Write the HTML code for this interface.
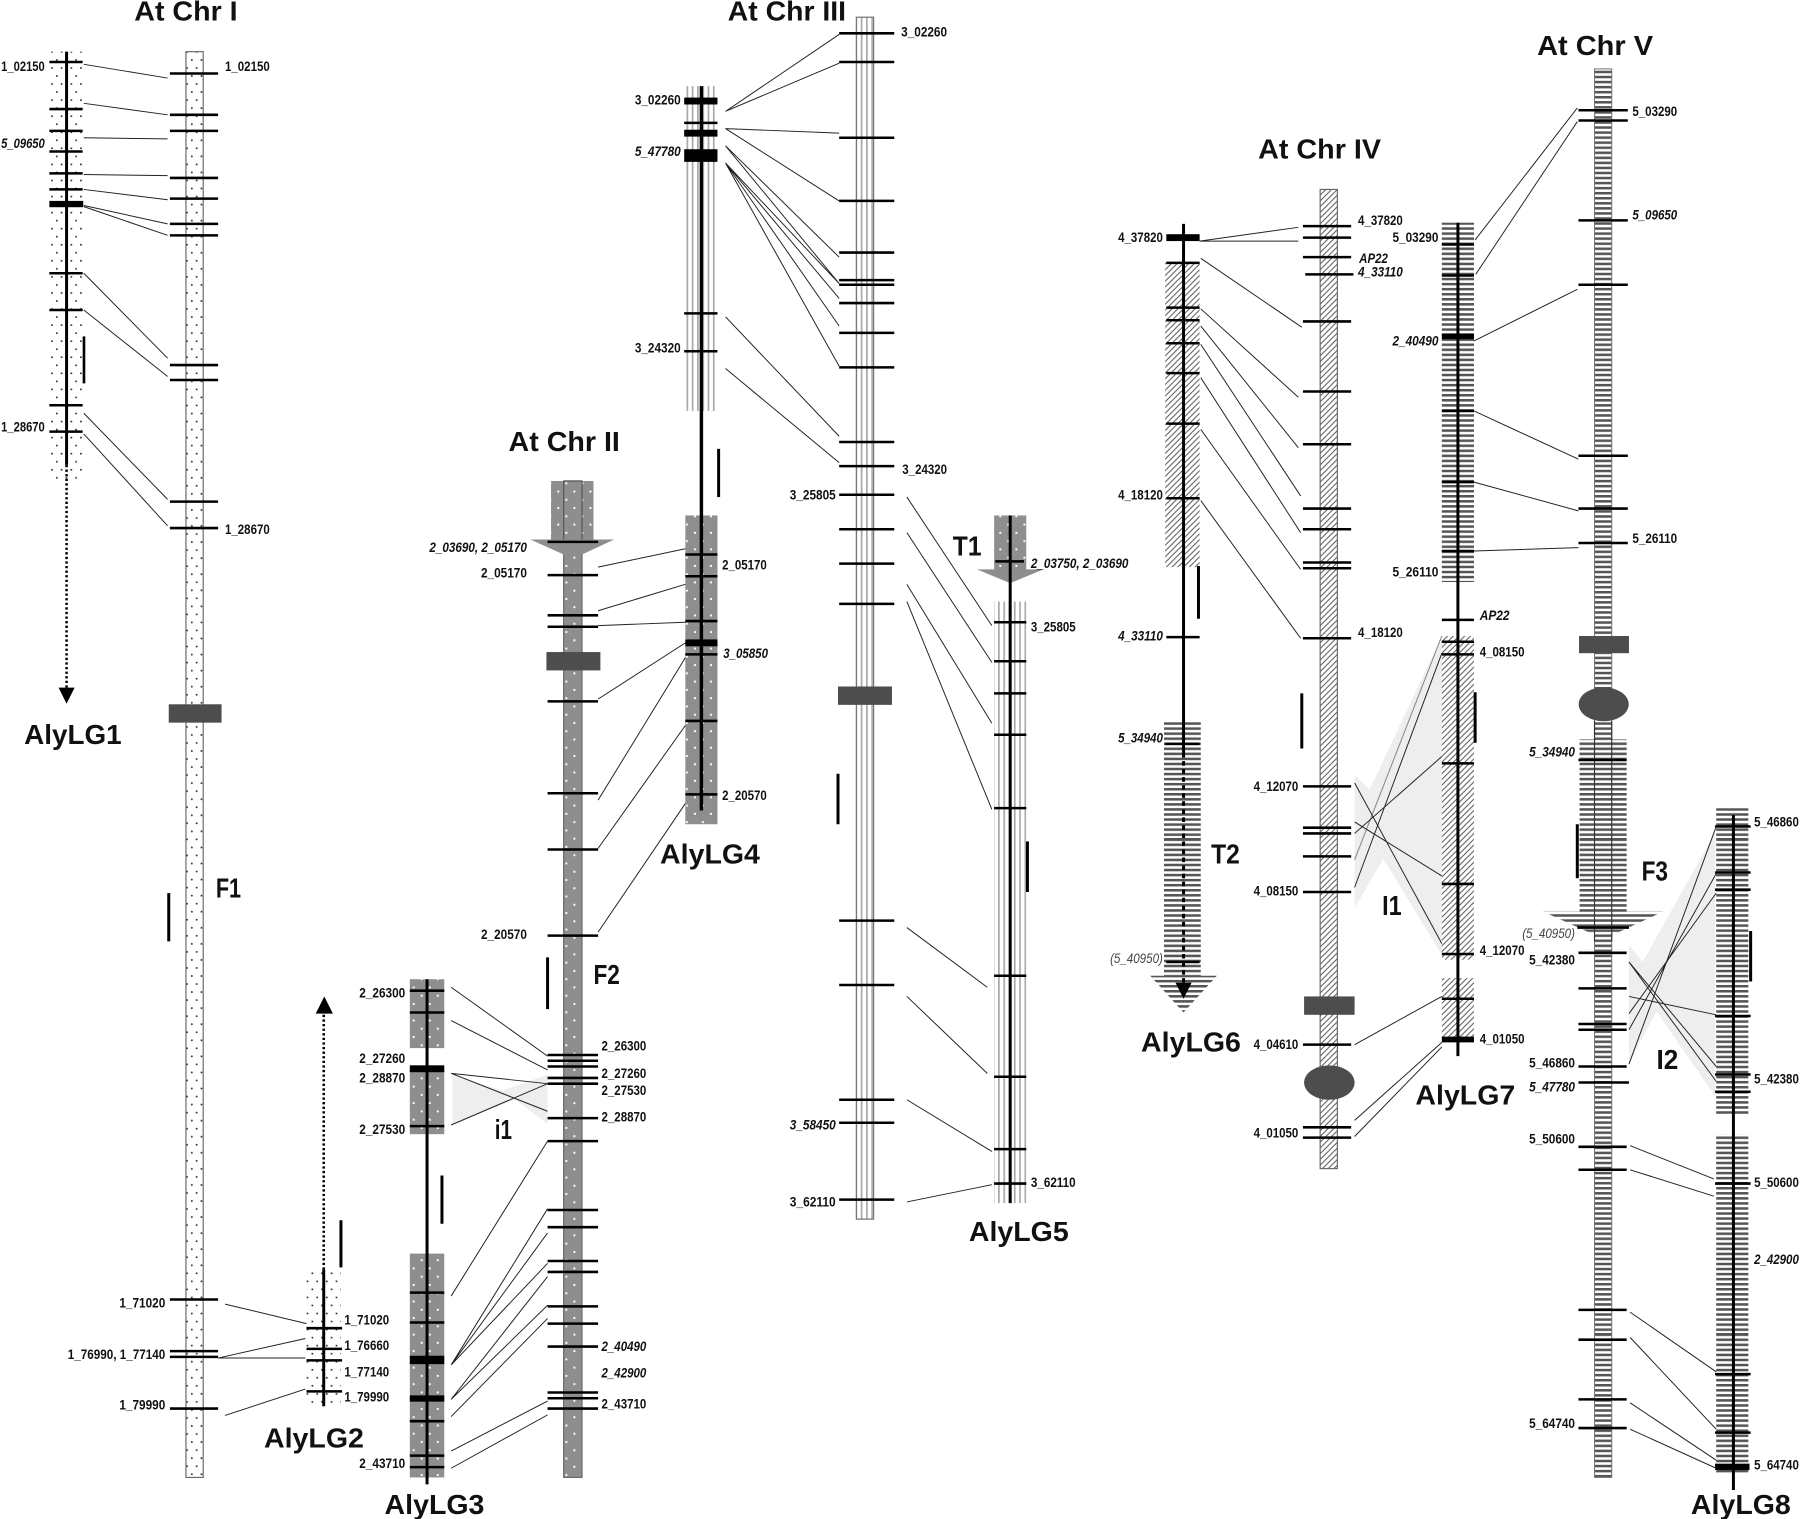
<!DOCTYPE html>
<html><head><meta charset="utf-8"><title>Chromosome synteny diagram</title>
<style>
html,body{margin:0;padding:0;background:#fff}
svg{display:block}
text{font-family:"Liberation Sans",sans-serif;font-weight:bold;fill:#111}
.l{font-size:11.8px}
.i{font-size:11.8px;font-style:italic}
.g{font-size:11.8px;font-style:italic;font-weight:normal;fill:#444}
.h{font-size:24px}
.t{fill:none;stroke:#000;stroke-width:2.2}
.c{fill:none;stroke:#222;stroke-width:.85}
.b{fill:none;stroke:#000;stroke-width:2.6}
.a{fill:none;stroke:#000;stroke-width:2.6}
.o{stroke:#666;stroke-width:1}
</style></head><body>
<svg xmlns="http://www.w3.org/2000/svg" width="1800" height="1519" viewBox="0 0 1568 1323.2">
<defs>
<pattern id="d" width="8.400" height="14" patternUnits="userSpaceOnUse"><rect width="8.400" height="14" fill="#fff"/><rect x="2.600" y="2.500" width="1.400" height="1.400" fill="#222"/><rect x="6.800" y="9.500" width="1.400" height="1.400" fill="#222"/></pattern>
<pattern id="dg" width="14" height="14.4" patternUnits="userSpaceOnUse"><rect width="14" height="14.4" fill="#8e8e8e"/><rect x="2.500" y="2.500" width="1.700" height="1.700" fill="#fff"/><rect x="9.500" y="9.700" width="1.700" height="1.700" fill="#fff"/></pattern>
<pattern id="v" width="4.600" height="10" patternUnits="userSpaceOnUse"><rect width="4.600" height="10" fill="#fff"/><rect x="0" y="0" width="1.500" height="10" fill="#aaa"/></pattern>
<pattern id="x" width="5" height="5" patternUnits="userSpaceOnUse"><rect width="5" height="5" fill="#fff"/><path d="M-1 6L6 -1M-1 1L1 -1M4 6L6 4" stroke="#555" stroke-width=".85"/></pattern>
<pattern id="hl" width="10" height="4.400" patternUnits="userSpaceOnUse"><rect width="10" height="4.400" fill="#fff"/><rect y="0" width="10" height="2.200" fill="#555"/></pattern>
</defs>
<rect width="1568" height="1323.2" fill="#fff"/>

<!-- shaded inversions -->
<polygon points="394,936 438,950 477,936 477,979 449,958 394,979" fill="#eee"/>
<polygon points="1180,675 1193,688 1256,554 1256,832 1205,748 1180,791" fill="#eee"/>
<polygon points="1419,823 1431,838 1494,725 1494,955 1443,881 1419,926" fill="#eee"/>

<!-- Chr I -->
<rect class="o" x="162" y="45" width="15" height="1242" fill="url(#d)"/>
<rect x="147" y="613.500" width="46" height="16" fill="#4d4d4d"/>
<path class="t" d="M148 64H190M148 100H190M148 114H190M148 155H190M148 173H190M148 195H190M148 205H190M148 318H190M148 331H190M148 437H190M148 460H190M148 1132H190M148 1177H190M148 1182H190M148 1227H190"/>
<path class="b" d="M147 778V820M73 293V334M297 1063V1104"/>

<!-- AlyLG1 -->
<rect x="44" y="45" width="28" height="373" fill="url(#d)"/>
<path class="a" d="M58 45V405"/>
<path d="M58 405V600" fill="none" stroke="#000" stroke-width="2.200" stroke-dasharray="2 2"/>
<polygon points="51,599 65,599 58,613" fill="#000"/>
<path class="t" d="M43 54H72M43 95H72M43 114H72M43 132H72M43 151H72M43 165H72M43 238H72M43 270H72M43 353H72M43 376H72"/>
<rect x="43" y="175" width="29.500" height="5.500" fill="#000"/>
<path class="c" d="M73 56L146 68M73 90L146 100M73 120L146 121M73 152L146 153M73 165L146 174M73 179L146 195M73 180L146 205M73 238L146 312M73 270L146 328M73 360L146 435M73 378L146 458"/>

<!-- AlyLG2 -->
<rect x="266" y="1108" width="31" height="117" fill="url(#d)"/>
<path class="a" d="M282 1106V1225"/>
<path d="M282 880V1106" fill="none" stroke="#000" stroke-width="2.200" stroke-dasharray="2 2"/>
<polygon points="275,883 290,883 282.500,868" fill="#000"/>
<path class="t" d="M267 1157H298M267 1175H298M267 1185H298M267 1212H298"/>
<path class="c" d="M196 1136L267 1153M190 1183L266 1166M190 1183L266 1183M196 1233L266 1210"/>

<!-- Chr II -->
<rect class="o" x="491" y="419" width="16" height="868" fill="url(#dg)"/>
<rect x="480" y="419" width="37" height="52" fill="url(#dg)"/>
<polygon points="462,470 535,470 507,483 491,483" fill="#8e8e8e"/>
<path d="M491 419H507M491 419V470M507 419V470" stroke="#555" fill="none"/>
<rect x="476" y="568" width="47" height="16" fill="#4d4d4d"/>
<path class="t" d="M477 472H521M477 501H521M477 536H521M477 546H521M477 611H521M477 691H521M477 740H521M477 815H521M477 919H521M477 924H521M477 929H521M477 939H521M477 944H521M477 974H521M477 994H521M477 1054H521M477 1069H521M477 1098.500H521M477 1108H521M477 1138H521M477 1153H521M477 1173H521M477 1213H521M477 1218H521M477 1227H521"/>
<path class="b" d="M477 834V879M385 1024V1066"/>

<!-- AlyLG3 -->
<rect x="357" y="853" width="30" height="60" fill="url(#dg)"/>
<rect x="357" y="932" width="30" height="56" fill="url(#dg)"/>
<rect x="357" y="1092" width="30" height="195" fill="url(#dg)"/>
<path class="a" d="M372 853V1293"/>
<path class="t" d="M357 863H387M357 882H387M357 981H387M357 1126H387M357 1152H387M357 1238H387M357 1268H387M357 1278H387"/>
<rect x="357" y="928" width="30" height="6" fill="#000"/>
<rect x="357" y="1181" width="30" height="7.300" fill="#000"/>
<rect x="357" y="1215.500" width="30" height="5.500" fill="#000"/>
<path class="c" d="M393 860L477 920M393 889L477 932M393 935L477 944M393 935L477 968M393 980L477 944M393 1129L477 994M393 1189L477 1053M393 1189L477 1074M393 1189L477 1100.500M393 1219L477 1112M393 1219L477 1137M393 1234L477 1148.500M393 1264L477 1220.500M393 1279L477 1232.500"/>

<!-- AlyLG4 -->
<rect x="597" y="75" width="28" height="283" fill="url(#v)"/>
<rect x="597" y="449" width="28" height="269" fill="url(#dg)"/>
<path d="M611 75V706" fill="none" stroke="#000" stroke-width="3"/>
<rect x="596" y="85" width="29" height="6" fill="#000"/>
<rect x="596" y="113" width="29" height="6" fill="#000"/>
<rect x="596" y="130" width="29" height="11" fill="#000"/>
<rect x="597" y="557" width="28" height="6" fill="#000"/>
<path class="t" d="M596 107H625M596 273H625M596 306H625M597 483H625M597 502H625M597 541H625M597 570H625M597 628H625M597 692H625"/>
<path class="b" d="M626 391V433"/>
<path class="c" d="M521 494L597 478M521 532L597 509M521 545L597 542M521 609L597 560M521 697L597 573M521 739L597 632M521 812L597 700"/>

<!-- Chr III -->
<rect x="746" y="15" width="15" height="1047" fill="url(#v)"/>
<rect x="746" y="15" width="15" height="1047" fill="none" stroke="#777" stroke-width="1.100"/>
<rect x="730" y="598" width="47" height="16" fill="#4d4d4d"/>
<path class="t" d="M731 29H779M731 54H779M731 120H779M731 175H779M731 220H779M731 244H779M731 248H779M731 264H779M731 290H779M731 320H779M731 385H779M731 406H779M731 431H779M731 461H779M731 491H779M731 526H779M731 802H779M731 858H779M731 958H779M731 978H779M731 1045H779"/>
<path class="b" d="M730 674V718"/>
<path class="c" d="M632 97L731 30M632 97L731 55M632 112L731 116M632 112L731 175M632 127L731 224M632 127L731 247M632 142L731 247M632 142L731 260M632 142L731 284M632 142L731 319M632 276L731 380M632 321L731 403"/>

<!-- AlyLG5 -->
<rect x="866" y="449" width="28" height="48" fill="url(#dg)"/>
<polygon points="851,496 909,496 880,508" fill="#8e8e8e"/>
<rect x="866" y="524" width="28" height="524" fill="url(#v)"/>
<path class="a" d="M880 449V1048"/>
<path class="t" d="M867 489H892M866 542H894M866 576H894M866 604H894M866 640H894M866 704H894M866 850H894M866 938H894M866 1001H894M866 1031H894"/>
<path class="b" d="M895 733V777"/>
<path class="c" d="M790 433L864 545M790 464L864 577M790 509L864 630M790 524L864 705M790 808L860 860M790 868L860 935M790 958L864 1003M790 1047L864 1032"/>

<!-- AlyLG6 -->
<rect x="1015" y="228" width="30" height="266" fill="url(#x)"/>
<rect x="1014" y="628" width="32" height="222" fill="url(#hl)"/>
<polygon points="1002,850 1060,850 1031,882" fill="url(#hl)"/>
<path class="a" d="M1031 195V656"/>
<path d="M1031 656V858" fill="none" stroke="#000" stroke-width="2.600" stroke-dasharray="4 3"/>
<polygon points="1024,856 1038,856 1031,870" fill="#000"/>
<rect x="1016" y="204" width="29" height="6" fill="#000"/>
<path class="t" d="M1016 229H1045M1016 268H1045M1016 279H1045M1016 299H1045M1016 325H1045M1016 369H1045M1016 434H1045M1016 555H1045M1015 648H1045M1016 838H1045"/>
<path class="b" d="M1044 493V539"/>
<path class="c" d="M1045 210L1131 198M1045 210L1131 210M1046 225L1134 285M1046 269L1131 346M1046 284L1131 390M1046 300L1133 432M1046 329L1133 464M1046 374L1133 496M1046 436L1133 556"/>

<!-- Chr IV -->
<rect class="o" x="1150" y="165" width="15" height="853" fill="url(#x)"/>
<rect x="1136" y="868" width="44" height="16" fill="#4d4d4d"/>
<ellipse cx="1158" cy="943" rx="22" ry="15" fill="#4d4d4d"/>
<path class="t" d="M1135 197H1177M1135 207H1177M1135 224H1177M1137 239H1179M1135 280H1177M1135 341H1177M1135 387H1177M1135 443H1177M1135 461H1177M1135 490H1177M1135 495H1177M1135 556H1177M1135 685H1177M1135 721H1177M1135 726H1177M1135 746H1177M1135 777H1177M1135 910H1177M1135 982H1177M1135 991H1177"/>
<path class="b" d="M1134 604V652"/>

<!-- AlyLG7 -->
<rect x="1256" y="194" width="28" height="313" fill="url(#hl)"/>
<rect x="1256" y="554" width="28" height="282" fill="url(#x)"/>
<rect x="1256" y="852" width="28" height="56" fill="url(#x)"/>
<path class="a" d="M1270 194V920"/>
<path class="t" d="M1256 213H1284M1256 240H1284M1256 358H1284M1256 420H1284M1256 480H1284M1256 540H1284M1256 559H1284M1256 570H1284M1256 665H1284M1256 770H1284M1256 831H1284M1256 870H1284"/>
<rect x="1256" y="290.500" width="28" height="5" fill="#000"/>
<rect x="1256" y="903" width="28" height="5" fill="#000"/>
<path class="b" d="M1285 603V647"/>
<path fill="none" stroke="#888" stroke-width=".9" d="M1180 749L1256 554"/>
<path class="c" d="M1180 773L1256 569M1180 726L1256 659M1180 716L1256 763M1180 682L1256 822M1180 910L1256 868M1180 976L1256 908M1180 990L1256 912"/>
<path class="c" d="M1285 209L1374 94M1285.500 239L1374 106M1284 297L1374 252M1284 358L1375 400M1284 420L1375 445M1284 480L1375 477"/>

<!-- Chr V -->
<rect x="1389" y="60" width="15" height="1227" fill="url(#hl)"/>
<rect x="1389" y="60" width="15" height="1227" fill="none" stroke="#777" stroke-width=".9"/>
<rect x="1375.500" y="554" width="43.500" height="15" fill="#4d4d4d"/>
<ellipse cx="1397" cy="613.500" rx="21.800" ry="14.800" fill="#4d4d4d"/>
<rect x="1376" y="644" width="41" height="151" fill="url(#hl)"/>
<polygon points="1344,794 1449,794 1397,818" fill="url(#hl)"/>
<path d="M1389 628V820M1404 628V820" stroke="#333" fill="none"/>
<path class="t" d="M1375 96H1418M1375 105H1418M1375 192H1418M1375 248H1418M1375 397H1418M1375 443H1418M1375 473H1418M1375 662H1417M1374 808H1419M1375 830H1417M1375 861H1417M1375 892H1417M1375 897H1417M1375 929H1417M1375 943H1419M1375 999H1417M1375 1019H1417M1375 1141H1417M1375 1167H1417M1375 1219H1417M1375 1244H1417"/>
<path class="b" d="M1374 718V765"/>

<!-- AlyLG8 -->
<rect x="1495" y="704" width="28" height="267" fill="url(#hl)"/>
<rect x="1495" y="988" width="28" height="295" fill="url(#hl)"/>
<path class="a" d="M1510 710V1298"/>
<path class="t" d="M1494 720H1525M1494 760H1525M1494 775H1525M1494 885H1525M1494 936H1525M1494 951H1525M1494 1031H1525M1494 1197H1525M1494 1248H1525"/>
<rect x="1494" y="1275" width="30" height="5.500" fill="#000"/>
<path class="b" d="M1525 811V855"/>
<path class="c" d="M1419 927L1495 720M1419 897L1495 761M1419 883L1495 778M1419 868L1495 884M1419 838L1495 929M1419 838L1495 942M1420 998L1493 1027M1420 1019L1493 1042M1420 1143L1495 1195M1420 1165L1495 1245M1420 1222L1495 1272M1420 1245L1495 1279"/>

<!-- Titles -->
<text class="h" x="117" y="18" textLength="90" lengthAdjust="spacingAndGlyphs">At Chr I</text>
<text class="h" x="443" y="393" textLength="97" lengthAdjust="spacingAndGlyphs">At Chr II</text>
<text class="h" x="634" y="18" textLength="103" lengthAdjust="spacingAndGlyphs">At Chr III</text>
<text class="h" x="1096" y="138" textLength="107" lengthAdjust="spacingAndGlyphs">At Chr IV</text>
<text class="h" x="1339" y="48" textLength="101" lengthAdjust="spacingAndGlyphs">At Chr V</text>
<text class="h" x="21" y="648" textLength="85" lengthAdjust="spacingAndGlyphs">AlyLG1</text>
<text class="h" x="230" y="1261" textLength="87" lengthAdjust="spacingAndGlyphs">AlyLG2</text>
<text class="h" x="335" y="1319" textLength="87" lengthAdjust="spacingAndGlyphs">AlyLG3</text>
<text class="h" x="575" y="752" textLength="87" lengthAdjust="spacingAndGlyphs">AlyLG4</text>
<text class="h" x="844" y="1081" textLength="87" lengthAdjust="spacingAndGlyphs">AlyLG5</text>
<text class="h" x="994" y="916" textLength="87" lengthAdjust="spacingAndGlyphs">AlyLG6</text>
<text class="h" x="1233" y="962" textLength="87" lengthAdjust="spacingAndGlyphs">AlyLG7</text>
<text class="h" x="1473" y="1319" textLength="87" lengthAdjust="spacingAndGlyphs">AlyLG8</text>
<text class="h" x="188" y="782" textLength="22" lengthAdjust="spacingAndGlyphs">F1</text>
<text class="h" x="517" y="857" textLength="23" lengthAdjust="spacingAndGlyphs">F2</text>
<text class="h" x="1430" y="767" textLength="23" lengthAdjust="spacingAndGlyphs">F3</text>
<text class="h" x="830" y="484" textLength="25" lengthAdjust="spacingAndGlyphs">T1</text>
<text class="h" x="1055" y="752" textLength="25" lengthAdjust="spacingAndGlyphs">T2</text>
<text class="h" x="1204" y="797" textLength="17" lengthAdjust="spacingAndGlyphs">I1</text>
<text class="h" x="1443" y="931" textLength="19" lengthAdjust="spacingAndGlyphs">I2</text>
<text class="h" x="431" y="992" textLength="15" lengthAdjust="spacingAndGlyphs">i1</text>

<!-- Labels: LG1 / Chr I / LG2 -->
<text class="l" x="1" y="62" textLength="38" lengthAdjust="spacingAndGlyphs">1_02150</text>
<text class="i" x="1" y="129" textLength="38" lengthAdjust="spacingAndGlyphs">5_09650</text>
<text class="l" x="1" y="376" textLength="38" lengthAdjust="spacingAndGlyphs">1_28670</text>
<text class="l" x="196" y="62" textLength="39" lengthAdjust="spacingAndGlyphs">1_02150</text>
<text class="l" x="196" y="465" textLength="39" lengthAdjust="spacingAndGlyphs">1_28670</text>
<text class="l" x="104" y="1139" textLength="40" lengthAdjust="spacingAndGlyphs">1_71020</text>
<text class="l" x="59" y="1184" textLength="85" lengthAdjust="spacingAndGlyphs">1_76990, 1_77140</text>
<text class="l" x="104" y="1228" textLength="40" lengthAdjust="spacingAndGlyphs">1_79990</text>
<text class="l" x="300" y="1154" textLength="39" lengthAdjust="spacingAndGlyphs">1_71020</text>
<text class="l" x="300" y="1176" textLength="39" lengthAdjust="spacingAndGlyphs">1_76660</text>
<text class="l" x="300" y="1199" textLength="39" lengthAdjust="spacingAndGlyphs">1_77140</text>
<text class="l" x="300" y="1221" textLength="39" lengthAdjust="spacingAndGlyphs">1_79990</text>

<!-- Labels: Chr II / LG3 / LG4 -->
<text class="i" x="374" y="481" textLength="85" lengthAdjust="spacingAndGlyphs">2_03690, 2_05170</text>
<text class="l" x="419" y="503" textLength="40" lengthAdjust="spacingAndGlyphs">2_05170</text>
<text class="l" x="419" y="818" textLength="40" lengthAdjust="spacingAndGlyphs">2_20570</text>
<text class="l" x="524" y="915" textLength="39" lengthAdjust="spacingAndGlyphs">2_26300</text>
<text class="l" x="524" y="939" textLength="39" lengthAdjust="spacingAndGlyphs">2_27260</text>
<text class="l" x="524" y="954" textLength="39" lengthAdjust="spacingAndGlyphs">2_27530</text>
<text class="l" x="524" y="977" textLength="39" lengthAdjust="spacingAndGlyphs">2_28870</text>
<text class="i" x="524" y="1177" textLength="39" lengthAdjust="spacingAndGlyphs">2_40490</text>
<text class="i" x="524" y="1200" textLength="39" lengthAdjust="spacingAndGlyphs">2_42900</text>
<text class="l" x="524" y="1227" textLength="39" lengthAdjust="spacingAndGlyphs">2_43710</text>
<text class="l" x="313" y="869" textLength="40" lengthAdjust="spacingAndGlyphs">2_26300</text>
<text class="l" x="313" y="926" textLength="40" lengthAdjust="spacingAndGlyphs">2_27260</text>
<text class="l" x="313" y="943" textLength="40" lengthAdjust="spacingAndGlyphs">2_28870</text>
<text class="l" x="313" y="988" textLength="40" lengthAdjust="spacingAndGlyphs">2_27530</text>
<text class="l" x="313" y="1279" textLength="40" lengthAdjust="spacingAndGlyphs">2_43710</text>
<text class="l" x="553" y="91" textLength="40" lengthAdjust="spacingAndGlyphs">3_02260</text>
<text class="i" x="553" y="136" textLength="40" lengthAdjust="spacingAndGlyphs">5_47780</text>
<text class="l" x="553" y="307" textLength="40" lengthAdjust="spacingAndGlyphs">3_24320</text>
<text class="l" x="629" y="496" textLength="39" lengthAdjust="spacingAndGlyphs">2_05170</text>
<text class="i" x="630" y="573" textLength="39" lengthAdjust="spacingAndGlyphs">3_05850</text>
<text class="l" x="629" y="697" textLength="39" lengthAdjust="spacingAndGlyphs">2_20570</text>

<!-- Labels: Chr III / LG5 -->
<text class="l" x="785" y="32" textLength="40" lengthAdjust="spacingAndGlyphs">3_02260</text>
<text class="l" x="786" y="413" textLength="39" lengthAdjust="spacingAndGlyphs">3_24320</text>
<text class="l" x="688" y="435" textLength="40" lengthAdjust="spacingAndGlyphs">3_25805</text>
<text class="i" x="688" y="984" textLength="40" lengthAdjust="spacingAndGlyphs">3_58450</text>
<text class="l" x="688" y="1051" textLength="40" lengthAdjust="spacingAndGlyphs">3_62110</text>
<text class="i" x="898" y="495" textLength="85" lengthAdjust="spacingAndGlyphs">2_03750, 2_03690</text>
<text class="l" x="898" y="550" textLength="39" lengthAdjust="spacingAndGlyphs">3_25805</text>
<text class="l" x="898" y="1034" textLength="39" lengthAdjust="spacingAndGlyphs">3_62110</text>

<!-- Labels: LG6 / Chr IV / LG7 -->
<text class="l" x="974" y="211" textLength="39" lengthAdjust="spacingAndGlyphs">4_37820</text>
<text class="l" x="974" y="435" textLength="39" lengthAdjust="spacingAndGlyphs">4_18120</text>
<text class="i" x="974" y="558" textLength="39" lengthAdjust="spacingAndGlyphs">4_33110</text>
<text class="i" x="974" y="647" textLength="39" lengthAdjust="spacingAndGlyphs">5_34940</text>
<text class="g" x="967" y="839" textLength="46" lengthAdjust="spacingAndGlyphs">(5_40950)</text>
<text class="l" x="1183" y="196" textLength="39" lengthAdjust="spacingAndGlyphs">4_37820</text>
<text class="i" x="1184" y="229" textLength="25" lengthAdjust="spacingAndGlyphs">AP22</text>
<text class="i" x="1183" y="241" textLength="39" lengthAdjust="spacingAndGlyphs">4_33110</text>
<text class="l" x="1183" y="555" textLength="39" lengthAdjust="spacingAndGlyphs">4_18120</text>
<text class="l" x="1092" y="689" textLength="39" lengthAdjust="spacingAndGlyphs">4_12070</text>
<text class="l" x="1092" y="780" textLength="39" lengthAdjust="spacingAndGlyphs">4_08150</text>
<text class="l" x="1092" y="914" textLength="39" lengthAdjust="spacingAndGlyphs">4_04610</text>
<text class="l" x="1092" y="991" textLength="39" lengthAdjust="spacingAndGlyphs">4_01050</text>
<text class="l" x="1213" y="211" textLength="40" lengthAdjust="spacingAndGlyphs">5_03290</text>
<text class="i" x="1213" y="301" textLength="40" lengthAdjust="spacingAndGlyphs">2_40490</text>
<text class="l" x="1213" y="502" textLength="40" lengthAdjust="spacingAndGlyphs">5_26110</text>
<text class="i" x="1289" y="540" textLength="26" lengthAdjust="spacingAndGlyphs">AP22</text>
<text class="l" x="1289" y="572" textLength="39" lengthAdjust="spacingAndGlyphs">4_08150</text>
<text class="l" x="1289" y="832" textLength="39" lengthAdjust="spacingAndGlyphs">4_12070</text>
<text class="l" x="1289" y="909" textLength="39" lengthAdjust="spacingAndGlyphs">4_01050</text>

<!-- Labels: Chr V / LG8 -->
<text class="l" x="1422" y="101" textLength="39" lengthAdjust="spacingAndGlyphs">5_03290</text>
<text class="i" x="1422" y="191" textLength="39" lengthAdjust="spacingAndGlyphs">5_09650</text>
<text class="l" x="1422" y="473" textLength="39" lengthAdjust="spacingAndGlyphs">5_26110</text>
<text class="i" x="1332" y="659" textLength="40" lengthAdjust="spacingAndGlyphs">5_34940</text>
<text class="g" x="1326" y="817" textLength="46" lengthAdjust="spacingAndGlyphs">(5_40950)</text>
<text class="l" x="1332" y="840" textLength="40" lengthAdjust="spacingAndGlyphs">5_42380</text>
<text class="l" x="1332" y="930" textLength="40" lengthAdjust="spacingAndGlyphs">5_46860</text>
<text class="i" x="1332" y="951" textLength="40" lengthAdjust="spacingAndGlyphs">5_47780</text>
<text class="l" x="1332" y="996" textLength="40" lengthAdjust="spacingAndGlyphs">5_50600</text>
<text class="l" x="1332" y="1244" textLength="40" lengthAdjust="spacingAndGlyphs">5_64740</text>
<text class="l" x="1528" y="720" textLength="39" lengthAdjust="spacingAndGlyphs">5_46860</text>
<text class="l" x="1528" y="944" textLength="39" lengthAdjust="spacingAndGlyphs">5_42380</text>
<text class="l" x="1528" y="1034" textLength="39" lengthAdjust="spacingAndGlyphs">5_50600</text>
<text class="i" x="1528" y="1101" textLength="39" lengthAdjust="spacingAndGlyphs">2_42900</text>
<text class="l" x="1528" y="1280" textLength="39" lengthAdjust="spacingAndGlyphs">5_64740</text>
</svg>
</body></html>
